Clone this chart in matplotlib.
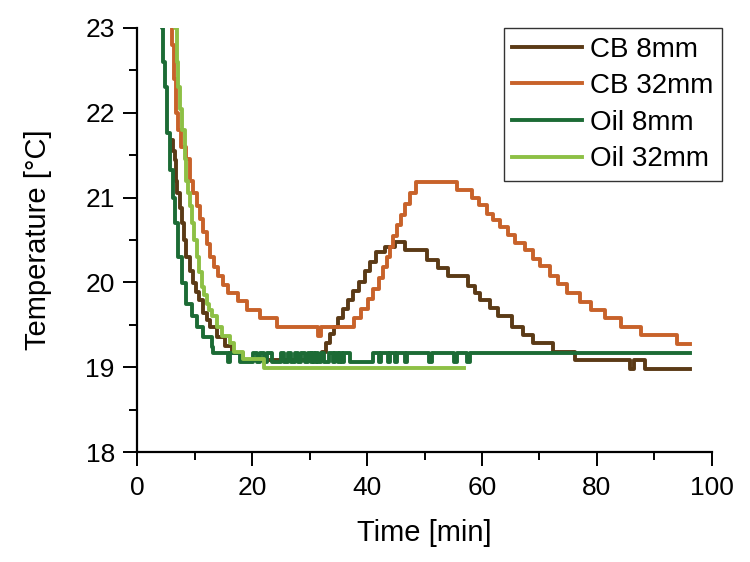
import matplotlib
matplotlib.use("Agg")
import matplotlib.pyplot as plt
from matplotlib.ticker import MultipleLocator

plt.rcParams['font.family'] = ['Liberation Sans', 'DejaVu Sans']

# step data: (start time [min], temperature [°C]), drawn with steps-post
cb8_t = [5.9, 6.3, 6.6, 6.8, 7.0, 7.4, 7.8, 8.2, 8.6, 9.2, 9.8, 10.2, 10.7, 11.5, 12.1,
         12.7, 13.9, 15.3, 16.5, 18.4, 32.1, 32.8, 33.5, 34.3, 35.0, 35.8, 36.7, 37.6,
         38.6, 39.6, 40.5, 41.5, 43.2, 44.9, 46.6, 50.4, 52.4, 54.1, 57.6, 58.8, 59.6,
         61.4, 62.8, 65.2, 67.2, 68.9, 72.4, 76.2, 85.7, 86.5, 88.3, 96.2]
cb8_T = [21.68, 21.55, 21.44, 21.2, 21.05, 20.88, 20.7, 20.5, 20.3, 20.13, 19.99, 19.89,
         19.79, 19.64, 19.56, 19.48, 19.36, 19.25, 19.17, 19.08, 19.18, 19.29, 19.39,
         19.48, 19.58, 19.69, 19.79, 19.9, 20.01, 20.13, 20.24, 20.36, 20.42, 20.48,
         20.38, 20.27, 20.17, 20.07, 19.96, 19.88, 19.79, 19.7, 19.6, 19.48, 19.38,
         19.28, 19.18, 19.08, 18.98, 19.08, 18.98, 18.98]

cb32_t = [5.5, 6.0, 6.4, 6.8, 7.1, 7.6, 8.6, 9.2, 9.8, 10.4, 11.0, 11.5, 12.1, 12.7,
          13.4, 14.1, 15.0, 15.9, 17.6, 19.1, 21.4, 24.3, 31.4, 32.0, 37.8, 38.9, 40.1,
          41.1, 42.0, 42.7, 43.4, 44.0, 44.6, 45.3, 45.9, 46.6, 47.5, 48.5, 55.6, 58.2,
          59.4, 60.8, 62.0, 63.2, 64.6, 65.8, 67.5, 68.8, 70.1, 71.8, 73.3, 74.7, 77.0,
          78.9, 81.4, 84.2, 87.6, 93.9, 96.2]
cb32_T = [23.5, 22.8, 22.4, 22.0, 21.8, 21.6, 21.45, 21.2, 21.05, 20.9, 20.75, 20.6,
          20.45, 20.3, 20.18, 20.07, 19.97, 19.88, 19.78, 19.67, 19.58, 19.48, 19.37,
          19.48, 19.58, 19.69, 19.81, 19.92, 20.05, 20.18, 20.3, 20.42, 20.55, 20.68,
          20.8, 20.93, 21.06, 21.18, 21.09, 21.0, 20.91, 20.81, 20.73, 20.65, 20.56,
          20.47, 20.38, 20.28, 20.19, 20.08, 19.98, 19.87, 19.77, 19.67, 19.58, 19.48,
          19.38, 19.27, 19.27]

oil8_t = [4.0, 4.3, 4.6, 4.9, 5.2, 5.7, 6.3, 6.6, 7.2, 7.8, 8.6, 9.5, 10.4, 11.5, 13.0,
          13.3, 15.8, 16.2, 17.9, 20.2, 20.8, 21.4, 22.0, 22.6, 23.4, 25.0, 25.6, 26.2,
          26.8, 27.4, 28.0, 28.6, 29.2, 29.8, 30.2, 30.5, 30.8, 31.1, 31.5, 32.0, 32.6,
          33.4, 34.0, 34.4, 34.9, 35.3, 35.7, 36.0, 37.0, 41.1, 42.0, 42.4, 43.6, 44.0,
          44.8, 45.2, 46.6, 47.0, 50.8, 51.3, 55.1, 55.6, 57.4, 57.9, 96.2]
oil8_T = [23.5, 23.0, 22.6, 22.3, 21.76, 21.33, 21.0, 20.7, 20.3, 19.99, 19.75, 19.6,
          19.48, 19.36, 19.24, 19.17, 19.06, 19.17, 19.06, 19.17, 19.06, 19.17, 19.06,
          19.17, 19.06, 19.17, 19.06, 19.17, 19.06, 19.17, 19.06, 19.17, 19.06, 19.17,
          19.06, 19.17, 19.06, 19.17, 19.06, 19.17, 19.06, 19.17, 19.06, 19.17, 19.06,
          19.17, 19.06, 19.17, 19.06, 19.17, 19.06, 19.17, 19.06, 19.17, 19.06, 19.17,
          19.06, 19.17, 19.06, 19.17, 19.06, 19.17, 19.06, 19.17, 19.17]

oil32_t = [6.3, 6.6, 6.9, 7.2, 7.5, 7.8, 8.3, 8.6, 8.9, 9.2, 9.5, 9.9, 10.4, 10.8, 11.3,
           11.7, 12.1, 12.5, 13.0, 13.9, 14.7, 16.2, 16.9, 18.5, 22.0, 56.8]
oil32_T = [23.5, 23.0, 22.6, 22.3, 22.05, 21.8, 21.45, 21.2, 21.05, 20.9, 20.7, 20.5,
           20.3, 20.12, 19.95, 19.85, 19.75, 19.68, 19.6, 19.48, 19.37, 19.28, 19.18,
           19.1, 18.99, 18.99]

labels = ['CB 8mm', 'CB 32mm', 'Oil 8mm', 'Oil 32mm']
colors = ['#5b3a16', '#c8622a', '#1c6b35', '#8dc045']

fig = plt.figure(figsize=(7.5, 5.62), dpi=100)
ax = fig.add_axes([0.1827, 0.1957, 0.7666, 0.7545])

series = [(cb8_t, cb8_T), (cb32_t, cb32_T), (oil8_t, oil8_T), (oil32_t, oil32_T)]
for (t, T), lab, c in zip(series, labels, colors):
    ax.plot(t, T, drawstyle='steps-post', color=c, lw=2.8, label=lab)

ax.set_xlim(0, 100)
ax.set_ylim(18, 23)
ax.xaxis.set_major_locator(MultipleLocator(20))
ax.xaxis.set_minor_locator(MultipleLocator(10))
ax.yaxis.set_major_locator(MultipleLocator(1))
ax.yaxis.set_minor_locator(MultipleLocator(0.5))
ax.tick_params(which='major', length=10, width=1.4, labelsize=19)
ax.tick_params(axis='x', which='major', pad=7)
ax.tick_params(axis='y', which='major', pad=6)
ax.tick_params(which='minor', length=5.5, width=1.4)
for s in ['top', 'right']:
    ax.spines[s].set_visible(False)
for s in ['left', 'bottom']:
    ax.spines[s].set_linewidth(1.6)

ax.set_xlabel('Time [min]', fontsize=21, labelpad=14)
ax.set_ylabel('Temperature [°C]', fontsize=21, labelpad=24)

leg = ax.legend(loc='upper right', bbox_to_anchor=(721.7 / 750, 1 - 28.3 / 562),
                bbox_transform=fig.transFigure, borderaxespad=0, fontsize=20,
                fancybox=False, framealpha=1, edgecolor='#333333',
                handlelength=2.5, handletextpad=0.3, labelspacing=0.38, borderpad=0.3)
leg.get_frame().set_linewidth(1.0)

fig.savefig('out.png', dpi=100)
